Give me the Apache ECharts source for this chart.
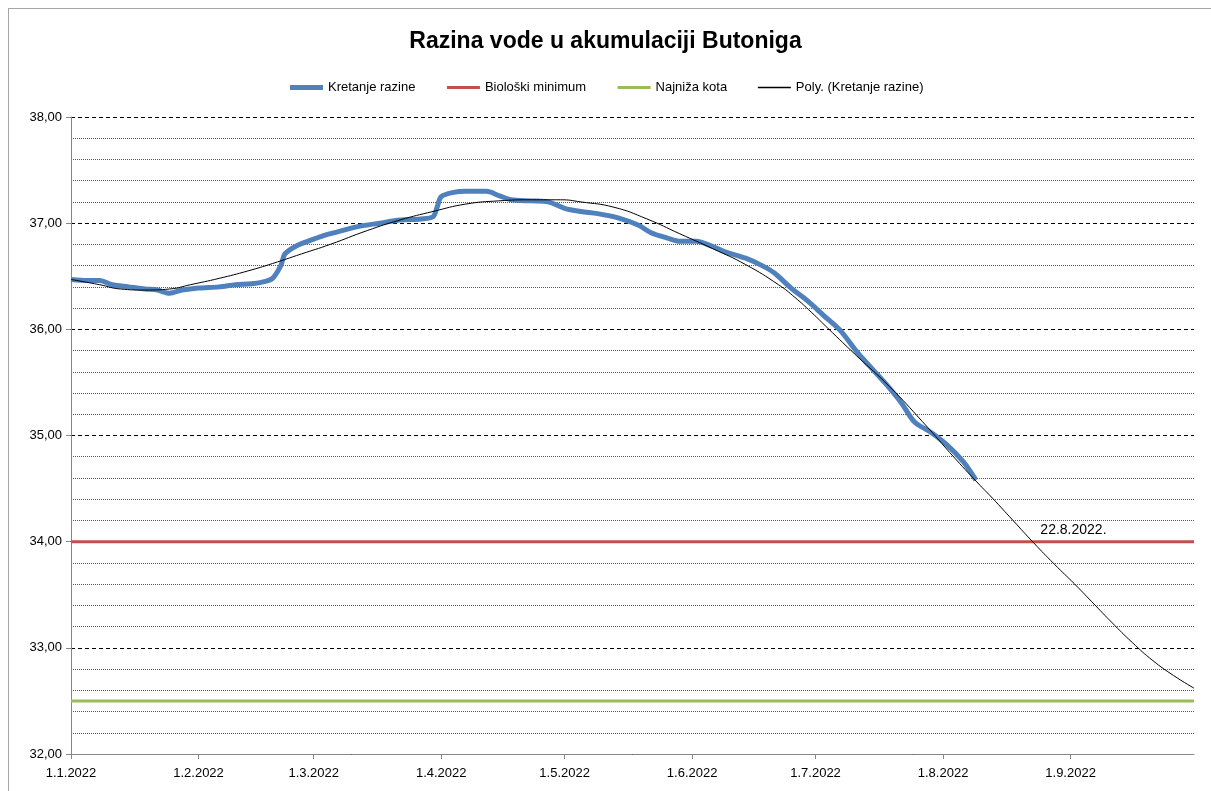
<!DOCTYPE html>
<html>
<head>
<meta charset="utf-8">
<script src="https://cdn.jsdelivr.net/npm/echarts@6/dist/echarts.min.js"></script>
<style>
html, body { margin: 0; padding: 0; background: #fff; }
#frame { position: absolute; left: 8px; top: 8px; width: 1220px; height: 800px; border: 1px solid #a6a6a6; box-sizing: border-box; }
#container { position: absolute; left: 0; top: 0; width: 1211px; height: 791px; }
</style>
</head>
<body>
<div id="frame"></div>
<div id="container"></div>
<script>
// izmjerena razina (Kretanje razine)
var razinaDates = ['2022-01-01','2022-01-05','2022-01-08','2022-01-11','2022-01-15','2022-01-19','2022-01-22','2022-01-25','2022-01-28',
	'2022-02-01','2022-02-06','2022-02-10','2022-02-14','2022-02-17','2022-02-19','2022-02-21','2022-02-22','2022-02-25',
	'2022-03-01','2022-03-04','2022-03-07','2022-03-12','2022-03-17','2022-03-22','2022-03-27','2022-03-30','2022-03-31',
	'2022-04-01','2022-04-04','2022-04-07','2022-04-12','2022-04-15','2022-04-18','2022-04-23','2022-04-27',
	'2022-05-01','2022-05-05','2022-05-09','2022-05-14','2022-05-19','2022-05-22','2022-05-26','2022-05-29',
	'2022-06-02','2022-06-06','2022-06-09','2022-06-14','2022-06-18','2022-06-21','2022-06-25','2022-06-29',
	'2022-07-03','2022-07-07','2022-07-11','2022-07-14','2022-07-18','2022-07-22','2022-07-25','2022-07-29',
	'2022-08-02','2022-08-06','2022-08-09'];
var razinaValues = [36.47,36.46,36.46,36.42,36.40,36.38,36.37,36.34,36.37,
	36.39,36.40,36.42,36.43,36.45,36.48,36.60,36.71,36.79,
	36.85,36.89,36.92,36.97,37.00,37.03,37.04,37.06,37.15,
	37.25,37.29,37.30,37.30,37.26,37.22,37.21,37.20,
	37.14,37.11,37.09,37.05,36.98,36.91,36.86,36.83,
	36.83,36.78,36.73,36.67,36.60,36.53,36.39,36.27,
	36.13,35.99,35.79,35.66,35.49,35.30,35.13,35.03,
	34.91,34.75,34.58];

// polinomski trend (ocitano sa slike)
var polyDates = ['2022-01-01','2022-01-08','2022-01-13','2022-01-19','2022-01-25','2022-01-30',
	'2022-02-06','2022-02-13','2022-02-19','2022-02-26','2022-03-05','2022-03-14','2022-03-22','2022-03-30',
	'2022-04-07','2022-04-15','2022-04-23','2022-04-30','2022-05-05','2022-05-13','2022-05-21','2022-05-29',
	'2022-06-06','2022-06-14','2022-06-22','2022-06-26','2022-06-30','2022-07-04','2022-07-11','2022-07-19','2022-07-27',
	'2022-08-04','2022-08-10','2022-08-13','2022-08-18','2022-08-23','2022-08-28',
	'2022-09-02','2022-09-07','2022-09-11','2022-09-16','2022-09-21','2022-09-26','2022-10-01'];
var polyValues = [36.47,36.42,36.38,36.37,36.38,36.42,
	36.48,36.55,36.62,36.71,36.80,36.93,37.03,37.11,
	37.18,37.21,37.22,37.22,37.20,37.15,37.04,36.90,
	36.76,36.61,36.42,36.30,36.16,36.01,35.75,35.46,35.13,
	34.78,34.53,34.41,34.20,33.99,33.79,
	33.60,33.40,33.24,33.05,32.88,32.74,32.62];

var refDates = ['2022-01-01','2022-10-01'];
var bioMinimum = [34.00, 34.00];
var najnizaKota = [32.50, 32.50];

var presjekDate = '2022-08-22';
var presjekLabel = '22.8.2022.';

function pairs(d, v) {
	var out = [];
	for (var i = 0; i < d.length; i++) out.push([d[i], v[i]]);
	return out;
}

var font = 'Liberation Sans';
var myChart = echarts.init(document.getElementById('container'));
var option = {
	animation: false,
	title: {
		text: 'Razina vode u akumulaciji Butoniga',
		left: 'center',
		top: 25,
		textStyle: { fontFamily: font, fontSize: 23, fontWeight: 'bold', color: '#000' }
	},
	legend: {
		top: 76,
		left: 'center',
		itemWidth: 33,
		itemHeight: 12,
		itemGap: 30,
		textStyle: { fontFamily: font, fontSize: 13, color: '#000' },
		data: [
			{ name: 'Kretanje razine', itemStyle: { opacity: 0 }, lineStyle: { width: 5, color: '#4F81BD' } },
			{ name: 'Biološki minimum', itemStyle: { opacity: 0 }, lineStyle: { width: 3, color: '#C0504D' } },
			{ name: 'Najniža kota', itemStyle: { opacity: 0 }, lineStyle: { width: 3, color: '#9BBB59' } },
			{ name: 'Poly. (Kretanje razine)', itemStyle: { opacity: 0 }, lineStyle: { width: 1.5, color: '#000' } }
		]
	},
	grid: { left: 71, right: 17, top: 117, bottom: 37 },
	xAxis: {
		type: 'time',
		min: '2022-01-01',
		max: '2022-10-01',
		splitNumber: 9,
		axisLine: { lineStyle: { color: '#868686', width: 1 } },
		axisTick: { show: true, length: 5, lineStyle: { color: '#868686' } },
		axisLabel: {
			fontFamily: font, fontSize: 13, color: '#000', margin: 13,
			formatter: function (val) {
				var d = new Date(val);
				if (d.getMonth() === 9) return '';
				return d.getDate() + '.' + (d.getMonth() + 1) + '.' + d.getFullYear();
			}
		},
		splitLine: { show: false }
	},
	yAxis: {
		type: 'value',
		min: 32,
		max: 38,
		interval: 1,
		axisLine: { show: true, lineStyle: { color: '#868686', width: 1 } },
		axisTick: { show: true, length: 5, lineStyle: { color: '#868686' } },
		axisLabel: {
			fontFamily: font, fontSize: 13, color: '#000', margin: 9,
			formatter: function (v) { return v.toFixed(2).replace('.', ','); }
		},
		splitLine: { show: true, lineStyle: { color: '#000', type: [4, 3], width: 1 } },
		minorTick: { show: false, splitNumber: 5 },
		minorSplitLine: { show: true, lineStyle: { color: '#555', type: [1, 1], width: 1 } }
	},
	series: [
		{
			name: 'Kretanje razine',
			type: 'line',
			data: pairs(razinaDates, razinaValues),
			showSymbol: false,
			symbol: 'none',
			smooth: 0.3,
			z: 3,
			lineStyle: { color: '#4F81BD', width: 5 },
			itemStyle: { color: '#4F81BD' }
		},
		{
			name: 'Biološki minimum',
			type: 'line',
			data: pairs(refDates, bioMinimum),
			symbol: 'none',
			z: 2,
			lineStyle: { color: '#C0504D', width: 3 },
			itemStyle: { color: '#C0504D' }
		},
		{
			name: 'Najniža kota',
			type: 'line',
			data: pairs(refDates, najnizaKota),
			symbol: 'none',
			z: 2,
			lineStyle: { color: '#9BBB59', width: 3 },
			itemStyle: { color: '#9BBB59' }
		},
		{
			name: 'Poly. (Kretanje razine)',
			type: 'line',
			data: pairs(polyDates, polyValues),
			symbol: 'none',
			smooth: true,
			z: 4,
			lineStyle: { color: '#000', width: 1 },
			itemStyle: { color: '#000' },
			markPoint: {
				symbol: 'circle',
				symbolSize: 0,
				data: [{ coord: [presjekDate, 34] }],
				label: {
					show: true,
					formatter: presjekLabel,
					offset: [44, -12],
					fontFamily: font, fontSize: 14, color: '#000'
				}
			}
		}
	]
};
myChart.setOption(option);
</script>
</body>
</html>
